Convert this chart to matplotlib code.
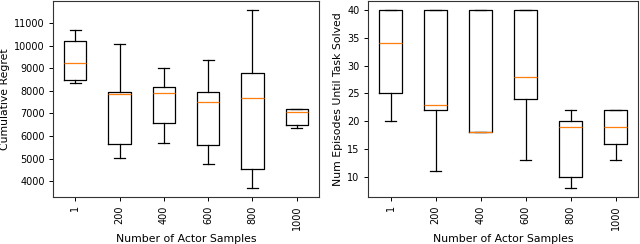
import matplotlib
matplotlib.use("Agg")
import matplotlib.pyplot as plt

# x categories
samples = ['1', '200', '400', '600', '800', '1000']

# cumulative regret box stats
regret_whislo = [8340, 5040, 5700, 4745, 3690, 6360]
regret_q1 = [8475, 5625, 6580, 5610, 4525, 6480]
regret_med = [9220, 7860, 7890, 7490, 7670, 7050]
regret_q3 = [10220, 7930, 8150, 7945, 8800, 7180]
regret_whishi = [10720, 10090, 9030, 9355, 11590, 7180]

# episodes until solved box stats
eps_whislo = [20, 11, 18, 13, 8, 13]
eps_q1 = [25, 22, 18, 24, 10, 16]
eps_med = [34, 23, 18, 28, 19, 19]
eps_q3 = [40, 40, 40, 40, 20, 22]
eps_whishi = [40, 40, 40, 40, 22, 22]


def make_stats(lo, q1, med, q3, hi):
    return [dict(whislo=a, q1=b, med=c, q3=d, whishi=e, fliers=[])
            for a, b, c, d, e in zip(lo, q1, med, q3, hi)]


fs = 7.0
lfs = 7.8
plt.rcParams['font.size'] = fs
fig = plt.figure(figsize=(6.4, 2.44), dpi=100)
ax1 = fig.add_axes([53 / 640, 1 - 197 / 244, 266 / 640, 196 / 244])
ax2 = fig.add_axes([368 / 640, 1 - 197 / 244, 270 / 640, 196 / 244])

lw = 0.9
style = dict(boxprops=dict(linewidth=lw),
             whiskerprops=dict(linewidth=lw),
             capprops=dict(linewidth=lw),
             medianprops=dict(linewidth=lw, color='C1'))

ax1.bxp(make_stats(regret_whislo, regret_q1, regret_med, regret_q3, regret_whishi),
        showfliers=False, **style)
ax2.bxp(make_stats(eps_whislo, eps_q1, eps_med, eps_q3, eps_whishi),
        showfliers=False, **style)

ax1.set_ylabel('Cumulative Regret', fontsize=lfs, labelpad=3)
ax2.set_ylabel('Num Episodes Until Task Solved', fontsize=lfs, labelpad=3)
for ax in (ax1, ax2):
    ax.set_xticks(range(1, 7))
    ax.set_xticklabels(samples, rotation=90)
    ax.set_xlabel('Number of Actor Samples', fontsize=lfs, labelpad=3)
    ax.tick_params(labelsize=fs, width=0.7, length=3, pad=3)
    for s in ax.spines.values():
        s.set_linewidth(0.8)
        s.set_color('#333333')
ax1.set_yticks([4000, 5000, 6000, 7000, 8000, 9000, 10000, 11000])
ax2.set_yticks([10, 15, 20, 25, 30, 35, 40])

fig.savefig('out.png', dpi=100)
